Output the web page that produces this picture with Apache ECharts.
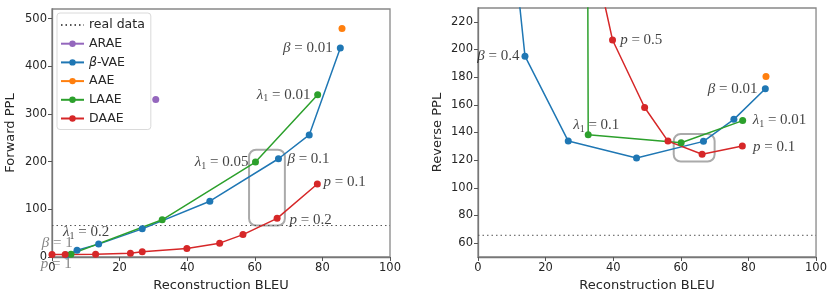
<!DOCTYPE html>
<html><head><meta charset="utf-8">
<script src="https://cdn.jsdelivr.net/npm/echarts@6/dist/echarts.min.js"></script>
<style>html,body{margin:0;padding:0;background:#fff}#c{width:830px;height:297px}</style>
</head><body><div id="c"></div>
<script>
// ---------- data ----------
const xTicks = [0, 20, 40, 60, 80, 100];
const yTicksFwd = [0, 100, 200, 300, 400, 500];
const yTicksRev = [60, 80, 100, 120, 140, 160, 180, 200, 220];
const realFwd = 66;
const realRev = 65.7;

// Forward PPL (left) [BLEU, PPL]
const arraeFwd = [[30.7, 330]];
const betaFwd = [[4.2, 4], [7.4, 14], [13.8, 27], [26.7, 59], [46.7, 117], [67.0, 206], [76.1, 256], [85.3, 438]];
const aaeFwd = [[85.8, 479]];
const laaeFwd = [[5.6, 6], [32.6, 78], [60.2, 199], [78.6, 340]];
const daaeFwd = [[0, 5], [3.9, 5.5], [12.9, 6], [23.2, 8], [26.7, 11], [39.9, 18], [49.6, 29], [56.5, 47], [66.6, 81], [78.5, 153]];

// Reverse PPL (right) [BLEU, PPL]
const betaRev = [[7.4, 347], [13.9, 195.2], [26.7, 133.8], [46.9, 121.6], [66.7, 133.6], [75.7, 149.5], [85.0, 171.6]];
const aaeRev = [[85.2, 180.4]];
const laaeRev = [[32.3, 400], [32.6, 138.3], [60.1, 132.6], [78.3, 148.6]];
const daaeRev = [[26.7, 352], [39.8, 206.9], [49.3, 158.1], [56.2, 133.8], [66.3, 124.3], [78.2, 130.2]];

// highlight boxes [x0, y0, x1, y1] in data units
const boxFwd = [[58.3, 66, 68.9, 225]];
const boxRev = [[57.9, 119, 70.0, 139]];

// annotations: [x, y, symbol, value, side] (text anchor in data units)
const annFwd = [
  [83.2, 438, 'β', '0.01', 'left'],
  [76.6, 340, 'λ1', '0.01', 'left'],
  [58.3, 199, 'λ1', '0.05', 'left'],
  [69.5, 206, 'β', '0.1', 'right'],
  [80.2, 157, 'p', '0.1', 'right'],
  [70.1, 78, 'p', '0.2', 'right'],
  [3.1, 52, 'λ1', '0.2', 'right'],
  [6.3, 29, 'β', '1', 'leftg'],
  [6.0, -14, 'p', '1', 'leftg']
];
const annRev = [
  [12.4, 195, 'β', '0.4', 'left'],
  [28.0, 145.2, 'λ1', '0.1', 'right'],
  [41.9, 207, 'p', '0.5', 'right'],
  [82.8, 171.6, 'β', '0.01', 'left'],
  [81.1, 148.8, 'λ1', '0.01', 'right'],
  [81.2, 129.5, 'p', '0.1', 'right']
];

// ---------- chart ----------
const C = {blue:'#1f77b4', orange:'#ff7f0e', green:'#2ca02c', red:'#d62728', purple:'#9467bd'};
const TXT = '#262626';
const FONT = 'DejaVu Sans';
const MATH = 'Liberation Serif';

function mathLabel(sym, val) {
  if (sym === 'λ1') return '{i|λ}{s|1}{t| = ' + val + '}';
  return '{i|' + sym + '}{t| = ' + val + '}';
}
function mathRich(color) {
  return {
    i: {fontFamily: MATH, fontStyle: 'italic', fontSize: 15, color: color, lineHeight: 18},
    t: {fontFamily: MATH, fontSize: 15, color: color, lineHeight: 18},
    s: {fontFamily: MATH, fontSize: 10, color: color, verticalAlign: 'bottom', lineHeight: 18, padding: [6, 0, 0, 0]}
  };
}
function annSeries(arr, idx) {
  return {
    type: 'scatter', xAxisIndex: idx, yAxisIndex: idx, silent: true, clip: false,
    symbolSize: 1, itemStyle: {color: 'transparent'}, z: 10,
    data: arr.map(a => {
      const gray = a[4] === 'leftg';
      const side = a[4] === 'right' ? 'right' : 'left';
      return {
        value: [a[0], a[1]],
        label: {
          show: true, position: side, distance: 0,
          formatter: mathLabel(a[2], a[3]),
          rich: mathRich(gray ? '#666' : '#111')
        }
      };
    })
  };
}
function boxSeries(arr, idx) {
  return {
    type: 'custom', xAxisIndex: idx, yAxisIndex: idx, silent: true, z: 1,
    encode: {x: [0, 2], y: [1, 3]},
    data: arr,
    renderItem: function (params, api) {
      const p0 = api.coord([api.value(0), api.value(3)]);
      const p1 = api.coord([api.value(2), api.value(1)]);
      return {
        type: 'rect',
        shape: {x: p0[0], y: p0[1], width: p1[0] - p0[0], height: p1[1] - p0[1], r: 7},
        style: {fill: 'none', stroke: '#aaaaaa', lineWidth: 2}
      };
    }
  };
}
function lineSeries(name, data, color, idx) {
  return {
    name: name, type: 'line', xAxisIndex: idx, yAxisIndex: idx, data: data,
    symbol: 'circle', symbolSize: 7, showSymbol: true,
    lineStyle: {color: color, width: 1.5}, itemStyle: {color: color},
    emphasis: {disabled: true}, animation: false
  };
}
function realSeries(val, idx) {
  return {
    name: 'real data', type: 'line', xAxisIndex: idx, yAxisIndex: idx,
    data: [[0, val], [100, val]], symbol: 'none',
    lineStyle: {color: '#555', width: 1, type: [1.5, 3]}, itemStyle: {color: '#555'},
    animation: false
  };
}
function xAxis(idx) {
  return {
    type: 'value', gridIndex: idx, min: 0, max: 100, interval: 20,
    name: 'Reconstruction BLEU', nameLocation: 'middle', nameGap: 22,
    nameTextStyle: {fontFamily: FONT, fontSize: 13, color: TXT},
    axisLine: {show: true, lineStyle: {color: '#777', width: 1.3}},
    axisTick: {show: true, inside: false, length: 4, lineStyle: {color: '#555'}},
    axisLabel: {fontFamily: FONT, fontSize: 11.5, color: TXT, margin: 5},
    splitLine: {show: false}
  };
}
function yAxis(idx, min, max, ticks, name, gap) {
  return {
    type: 'value', gridIndex: idx, min: min, max: max,
    name: name, nameLocation: 'middle', nameGap: gap,
    nameTextStyle: {fontFamily: FONT, fontSize: 13, color: TXT},
    axisLine: {show: true, lineStyle: {color: '#777', width: 1.3}},
    axisTick: {show: true, inside: false, length: 4, customValues: ticks, lineStyle: {color: '#555'}},
    axisLabel: {fontFamily: FONT, fontSize: 11.5, color: TXT, margin: 5, customValues: ticks},
    splitLine: {show: false}
  };
}

const chart = echarts.init(document.getElementById('c'), null, {renderer: 'canvas'});
chart.setOption({
  animation: false,
  backgroundColor: '#fff',
  grid: [
    {left: 52, top: 9, width: 338, height: 252, show: true, borderColor: '#888', borderWidth: 1.3, backgroundColor: 'transparent'},
    {left: 478, top: 8, width: 339, height: 253, show: true, borderColor: '#888', borderWidth: 1.3, backgroundColor: 'transparent'}
  ],
  xAxis: [xAxis(0), xAxis(1)],
  yAxis: [
    yAxis(0, 0, 520, yTicksFwd, 'Forward PPL', 35),
    yAxis(1, 50, 230, yTicksRev, 'Reverse PPL', 34)
  ],
  legend: {
    left: 57, top: 13, orient: 'vertical',
    data: [
      {name: 'real data', itemStyle: {opacity: 0}},
      'ARAE', 'β-VAE', 'AAE', 'LAAE', 'DAAE'
    ],
    itemWidth: 23, itemHeight: 8, itemGap: 4.7,
    padding: [5, 6, 4, 3],
    borderColor: '#dadada', borderWidth: 1, borderRadius: 3, backgroundColor: '#fff',
    textStyle: {fontFamily: FONT, fontSize: 12.5, color: TXT, lineHeight: 14,
      rich: {i: {fontFamily: FONT, fontStyle: 'italic', fontSize: 12.5, color: TXT}, n: {fontFamily: FONT, fontSize: 12.5, color: TXT}}},
    formatter: function (name) { return name === 'β-VAE' ? '{i|β}{n|-VAE}' : name; },
    selectedMode: false
  },
  series: [
    realSeries(realFwd, 0),
    lineSeries('ARAE', arraeFwd, C.purple, 0),
    lineSeries('β-VAE', betaFwd, C.blue, 0),
    lineSeries('AAE', aaeFwd, C.orange, 0),
    lineSeries('LAAE', laaeFwd, C.green, 0),
    lineSeries('DAAE', daaeFwd, C.red, 0),
    boxSeries(boxFwd, 0),
    annSeries(annFwd, 0),
    realSeries(realRev, 1),
    lineSeries('β-VAE', betaRev, C.blue, 1),
    lineSeries('AAE', aaeRev, C.orange, 1),
    lineSeries('LAAE', laaeRev, C.green, 1),
    lineSeries('DAAE', daaeRev, C.red, 1),
    boxSeries(boxRev, 1),
    annSeries(annRev, 1)
  ]
});
</script></body></html>
